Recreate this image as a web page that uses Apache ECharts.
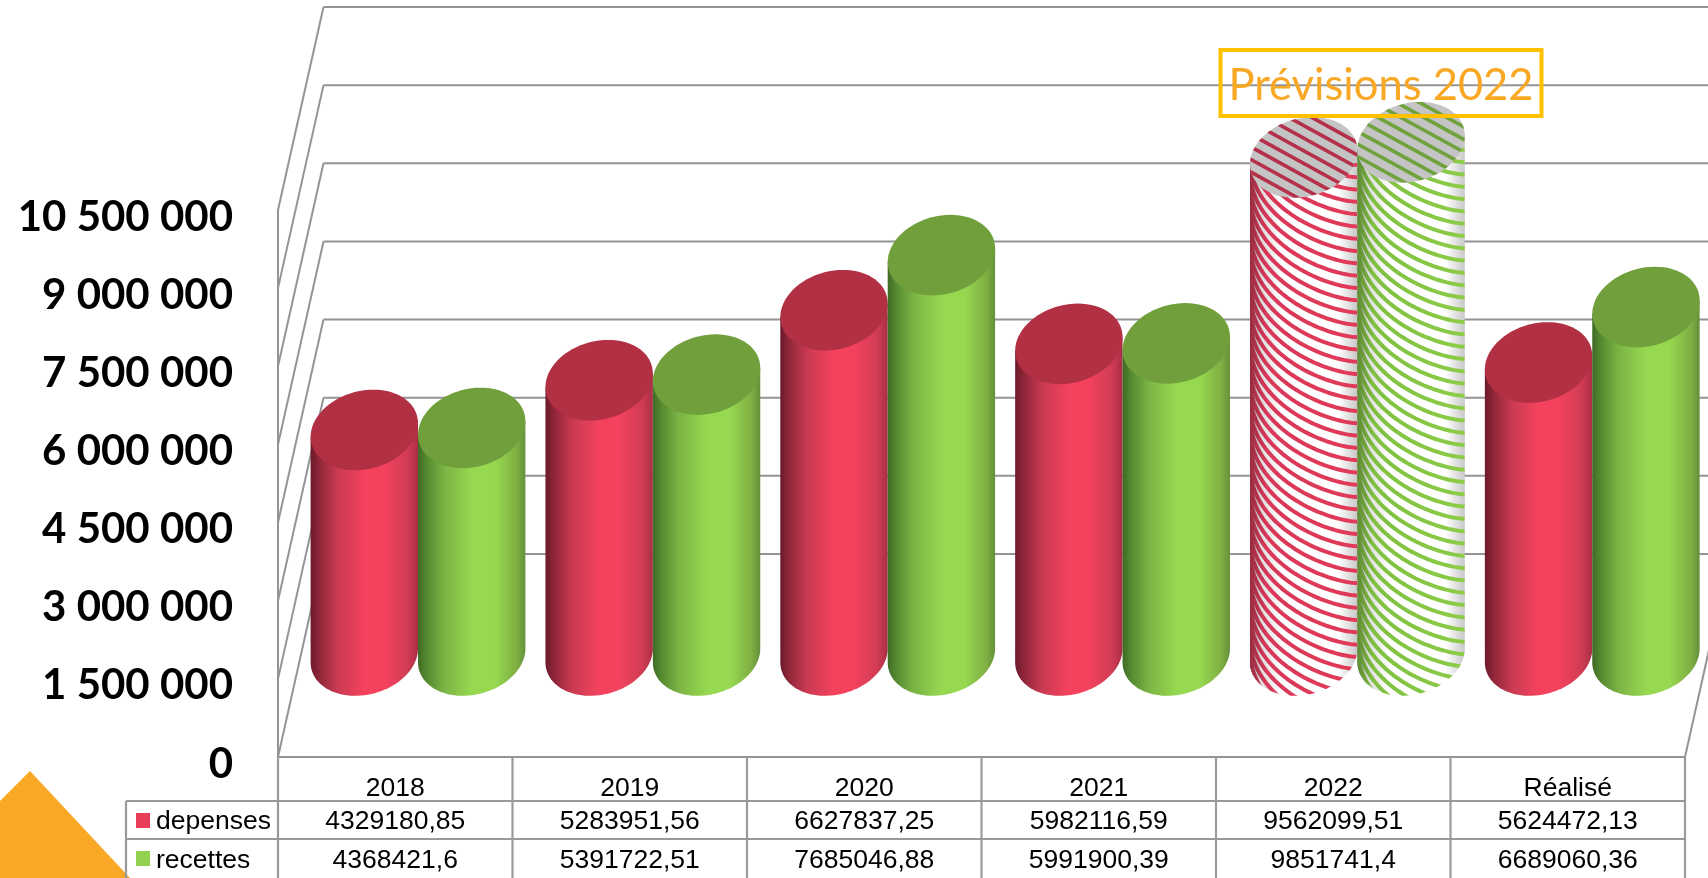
<!DOCTYPE html>
<html><head><meta charset="utf-8">
<style>html,body{margin:0;padding:0;background:#fff;overflow:hidden}#c{width:1708px;height:878px}</style>
<script src="https://cdn.jsdelivr.net/npm/echarts@6/dist/echarts.min.js"></script>
</head><body><div id="c"></div>
<script>
const categories = ['2018','2019','2020','2021','2022','Réalisé'];
const depenses = [4329180.85,5283951.56,6627837.25,5982116.59,9562099.51,5624472.13];
const recettes = [4368421.6,5391722.51,7685046.88,5991900.39,9851741.4,6689060.36];
const yTicks = [0,1500000,3000000,4500000,6000000,7500000,9000000,10500000];
const yTickLabels = ['0','1 500 000','3 000 000','4 500 000','6 000 000','7 500 000','9 000 000','10 500 000'];
const forecastCategory = '2022';

const DX = 45.5, DY = 203, R = 53.7, D = 40.3, GRID = '#949494', TXT = '"Liberation Sans"';
const C = D * DX / DY, A = Math.sqrt(R*R - C*C), T0 = Math.atan(C / A);
const fmt = v => String(v).replace('.', ',');
const LG = (x0,x1,stops) => new echarts.graphic.LinearGradient(x0,0,x1,0,stops.map(s=>({offset:s[0],color:s[1]})),true);

const PAL = {
  red:  {solid:[[0,'#6b1a2b'],[.08,'#8f2638'],[.25,'#c93a52'],[.5,'#f4425e'],[.68,'#f4425e'],[.9,'#d13c55'],[1,'#a92e44']], cap:'#b23044', legend:'#e83e5a',
         stripe:[[0,'#9a2c42'],[.15,'#d9385a'],[1,'#e23a58']], capStripe:'#b5304a'},
  green:{solid:[[0,'#3f6a25'],[.08,'#558a30'],[.25,'#7cb545'],[.5,'#96d850'],[.72,'#96d850'],[.92,'#7fae42'],[1,'#64903a']], cap:'#709f3c', legend:'#92d050',
         stripe:[[0,'#5f8a35'],[.15,'#7fc040'],[1,'#8ccc48']], capStripe:'#6fa23c'}
};
const hatchFill = [[0,'#9a9a9a'],[.1,'#dcdcdc'],[.3,'#ffffff'],[.82,'#ffffff'],[1,'#c8c8c8']];

function ell(cx, cy, t) { return [cx + A*Math.cos(t) - C*Math.sin(t), cy + D*Math.sin(t)]; }
function arc(cx, cy, t1, t2, n) { const p=[]; for(let i=0;i<=n;i++) p.push(ell(cx,cy,t1+(t2-t1)*i/n)); return p; }

function cylinder(side, pal) {
  return function (params, api) {
    const i = api.value(0), val = api.value(1);
    const top = api.coord([i, val]), base = api.coord([i, 0]);
    const cx = top[0] + DX/2 + side*R + i*0.35, capY = top[1] - DY/2, baseY = base[1] - DY/2;
    const capPts = arc(cx, capY, 0, Math.PI*2, 72);
    const body = [ell(cx,capY,-T0), ell(cx,capY,Math.PI-T0)].concat(arc(cx,baseY,Math.PI-T0,-T0,48));
    const fillG = stops => LG(cx-R, cx+R, stops);
    const children = [];
    if (categories[i] !== forecastCategory) {
      children.push({type:'polygon',shape:{points:body},style:{fill:fillG(pal.solid)}});
      children.push({type:'polygon',shape:{points:capPts},style:{fill:pal.cap}});
    } else {
      children.push({type:'polygon',shape:{points:body},style:{fill:fillG(hatchFill)}});
      const stripes = [], DROP = 92, BOW = DROP/Math.PI, step = 12.3;
      for (let y0 = capY - DROP - BOW; y0 < baseY + D + 10; y0 += step) {
        const p = [];
        for (let k=0;k<=40;k++){
          const th = -Math.PI/2 + Math.PI*k/40;
          p.push([cx + R*Math.sin(th), y0 + DROP*k/40 + BOW*Math.cos(th)]);
        }
        stripes.push({type:'polyline',shape:{points:p},style:{stroke:fillG(pal.stripe),lineWidth:4,fill:null}});
      }
      children.push({type:'group',children:stripes,clipPath:{type:'polygon',shape:{points:body}}});
      children.push({type:'polygon',shape:{points:capPts},style:{fill:'#c4c4c4'}});
      const caps = [];
      for (let o=-120;o<=120;o+=12.6){
        caps.push({type:'line',shape:{x1:cx-70,y1:capY+o-70*.55,x2:cx+70,y2:capY+o+70*.55},style:{stroke:pal.capStripe,lineWidth:3.6}});
      }
      children.push({type:'group',children:caps,clipPath:{type:'polygon',shape:{points:capPts}}});
    }
    return {type:'group',children};
  };
}

function frame(params, api) {
  const p = api.coord([0, api.value(1)]), half = api.size([1,0])[0]/2;
  const x0 = p[0]-half, y = p[1];
  const st = {stroke:GRID,lineWidth:2};
  const last = api.coord([categories.length-1, 0])[0] + half;
  const ch = [
    {type:'line',shape:{x1:x0,y1:y,x2:x0+DX,y2:y-DY},style:st},
    {type:'line',shape:{x1:x0+DX,y1:y-DY,x2:last+DX,y2:y-DY},style:st}
  ];
  if (api.value(1)===0) ch.push({type:'line',shape:{x1:last,y1:y,x2:last+DX,y2:y-DY},style:st});
  return {type:'group',children:ch};
}

const ROW1 = 801, ROW2 = 839, PAGE_B = 878, TABLE_L = 126;
function tableCol(params, api) {
  const i = api.value(0), p = api.coord([i,0]), half = api.size([1,0])[0]/2, fl = p[1];
  const st = {stroke:'#9a9a9a',lineWidth:2.2};
  const tx = (x,y,text,align) => ({type:'text',style:{x,y,text,fill:'#000',fontFamily:TXT,fontSize:26.5,align:align||'center',verticalAlign:'middle'}});
  const ch = [
    {type:'line',shape:{x1:p[0]+half,y1:fl,x2:p[0]+half,y2:PAGE_B},style:st},
    tx(p[0],ROW1+21,fmt(depenses[i])),
    tx(p[0],ROW2+21.5,fmt(recettes[i]))
  ];
  if (i===0) {
    const x0 = p[0]-half, right = x0 + half*2*categories.length;
    ch.push({type:'line',shape:{x1:x0,y1:fl,x2:x0,y2:PAGE_B},style:st});
    ch.push({type:'line',shape:{x1:TABLE_L,y1:ROW1,x2:right,y2:ROW1},style:st});
    ch.push({type:'line',shape:{x1:TABLE_L,y1:ROW2,x2:right,y2:ROW2},style:st});
    ch.push({type:'line',shape:{x1:TABLE_L,y1:ROW1,x2:TABLE_L,y2:PAGE_B},style:st});
    ch.push({type:'rect',shape:{x:136,y:ROW1+12,width:14,height:15},style:{fill:PAL.red.legend}});
    ch.push({type:'rect',shape:{x:136,y:ROW2+12,width:14,height:15},style:{fill:PAL.green.legend}});
    ch.push(tx(156,ROW1+21,'depenses','left'));
    ch.push(tx(156,ROW2+21.5,'recettes','left'));
  }
  return {type:'group',children:ch};
}

const chart = echarts.init(document.getElementById('c'),null,{renderer:'canvas'});
chart.setOption({
  animation:false,
  backgroundColor:'#fff',
  grid:{left:278,right:23,top:210,bottom:121,containLabel:false},
  xAxis:{type:'category',data:categories,boundaryGap:true,
    axisLine:{show:true,lineStyle:{color:GRID,width:2}},axisTick:{show:false},
    axisLabel:{color:'#000',fontFamily:TXT,fontSize:26.5,margin:18,interval:0},splitLine:{show:false}},
  yAxis:{type:'value',min:0,max:10500000,interval:1500000,
    axisLine:{show:true,lineStyle:{color:GRID,width:2}},axisTick:{show:false},splitLine:{show:false},
    axisLabel:{color:'#000',fontFamily:'Lato',fontWeight:'bold',fontSize:42,margin:45,verticalAlign:'top',lineHeight:14,
      formatter:v=>yTickLabels[yTicks.indexOf(v)]}},
  series:[
    {type:'custom',name:'frame',silent:true,z:1,clip:false,renderItem:frame,data:yTicks.map(v=>[0,v]),encode:{x:0,y:1}},
    {type:'custom',name:'depenses',silent:true,z:3,clip:false,renderItem:cylinder(-1,PAL.red),data:depenses.map((v,i)=>[i,v]),encode:{x:0,y:1}},
    {type:'custom',name:'recettes',silent:true,z:4,clip:false,renderItem:cylinder(1,PAL.green),data:recettes.map((v,i)=>[i,v]),encode:{x:0,y:1}},
    {type:'custom',name:'table',silent:true,z:5,clip:false,renderItem:tableCol,data:categories.map((c,i)=>[i,0]),encode:{x:0,y:1}}
  ],
  graphic:[
    {type:'polygon',z:1,shape:{points:[[0,801],[30,771],[130,878],[0,878]]},style:{fill:'#f9a825'}},
    {type:'rect',z:10,shape:{x:1220.5,y:50,width:321,height:66},style:{fill:'none',stroke:'#ffc000',lineWidth:4}},
    {type:'text',z:11,style:{x:1381,y:86,text:'Prévisions 2022',fill:'#f9a825',fontFamily:'Lato',fontSize:43.5,align:'center',verticalAlign:'middle'}}
  ]
});
</script></body></html>
